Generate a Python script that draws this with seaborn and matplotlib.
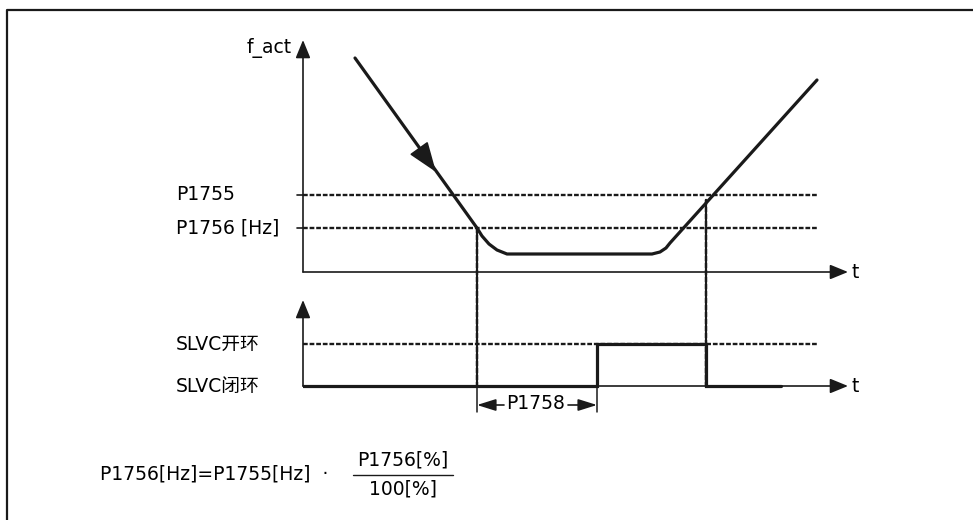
import numpy as np
import pandas as pd
import seaborn as sns
import matplotlib.pyplot as plt
from matplotlib.patches import ConnectionPatch
from matplotlib.lines import Line2D

# f_act curve (t, f)
t_curve = [5.2, 17.4, 17.9, 18.6, 19.4, 20.4, 34.9, 35.7, 36.3, 36.7, 51.4]
f_curve = [21.4, 4.4, 3.6, 2.8, 2.2, 1.8, 1.8, 2.0, 2.4, 2.9, 19.2]

# thresholds
p1755 = 7.7
p1756 = 4.4
level_labels = ["P1755", "P1756 [Hz]"]

# SLVC state signal (0 = closed loop, 4.2 = open loop)
t_slvc = [0, 29.4, 40.3, 47.8]
s_slvc = [0, 4.2, 0, 0]
slvc_open = 4.2
slvc_labels = ["SLVC开环", "SLVC闭环"]

t_down = 17.4      # f_act falls below P1756
t_up = 40.3        # f_act rises above P1755
p1758 = 12.0       # delay
t_end_dash = 51.5

sns.set_theme(style="white")
plt.rcParams['font.family'] = ['DejaVu Sans', 'Noto Sans CJK SC']
plt.rcParams['text.color'] = 'black'

W, H = 973, 520
fig = plt.figure(figsize=(W / 100, H / 100), dpi=100)
fig.patch.set_facecolor("white")

def rect(x0, y0, x1, y1):
    return [x0 / W, 1 - y1 / H, (x1 - x0) / W, (y1 - y0) / H]

ax1 = fig.add_axes(rect(303, 40, 848, 272))
ax2 = fig.add_axes(rect(303, 300, 848, 420))
ax1.set_xlim(0, 54.5)
ax1.set_ylim(0, 23.2)
ax2.set_xlim(0, 54.5)
ax2.set_ylim(-3.4, 8.6)
for ax in (ax1, ax2):
    ax.axis("off")

axis_arrow = dict(arrowstyle="-|>,head_length=1.1,head_width=0.45", mutation_scale=10,
                  lw=1.2, color="k", shrinkA=0, shrinkB=0)
dash = (0, (2.0, 0.8))
fs = 13.5

# ---- upper panel ----
ax1.annotate("", xy=(54.5, 0), xytext=(0, 0), arrowprops=axis_arrow, annotation_clip=False)
ax1.annotate("", xy=(0, 23.2), xytext=(0, 0), arrowprops=axis_arrow, annotation_clip=False)

for lev, lab in zip([p1755, p1756], level_labels):
    ax1.plot([0, t_end_dash], [lev, lev], color="k", lw=1.7, ls=dash)
    ax1.plot([-0.65, 0], [lev, lev], color="k", lw=1.2, clip_on=False)
    ax1.text(-12.7, lev, lab, ha="left", va="center", fontsize=fs, clip_on=False)

sns.lineplot(x=t_curve, y=f_curve, sort=False, estimator=None, color="k", lw=2.3, ax=ax1,
             solid_joinstyle="round", solid_capstyle="round")
ax1.annotate("", xy=(13.3, 10.0), xytext=(11.6, 12.37),
             arrowprops=dict(arrowstyle="-|>,head_length=1.9,head_width=0.7", mutation_scale=10,
                             lw=1.2, color="k", shrinkA=0, shrinkB=0))

ax1.text(-1.1, 22.4, "f_act", ha="right", va="center", fontsize=fs, clip_on=False)
ax1.text(54.9, 0, "t", ha="left", va="center", fontsize=fs, clip_on=False)

# ---- lower panel ----
ax2.annotate("", xy=(54.5, 0), xytext=(0, 0), arrowprops=axis_arrow, annotation_clip=False)
ax2.annotate("", xy=(0, 8.6), xytext=(0, 0), arrowprops=axis_arrow, annotation_clip=False)
ax2.plot([0, t_end_dash], [slvc_open, slvc_open], color="k", lw=1.7, ls=dash)
sns.lineplot(x=t_slvc, y=s_slvc, drawstyle="steps-post", estimator=None, color="k", lw=2.3,
             ax=ax2, solid_joinstyle="miter")
ax2.text(-12.7, slvc_open, slvc_labels[0], ha="left", va="center", fontsize=fs, clip_on=False)
ax2.text(-12.7, 0, slvc_labels[1], ha="left", va="center", fontsize=fs, clip_on=False)
ax2.text(54.9, 0, "t", ha="left", va="center", fontsize=fs, clip_on=False)

# P1758 delay marker
for tt in (t_down, t_down + p1758):
    ax2.plot([tt, tt], [0, -2.6], color="k", lw=1.1, clip_on=False)
mid = t_down + p1758 / 2
small_arrow = dict(arrowstyle="-|>,head_length=1.15,head_width=0.36", mutation_scale=10,
                   lw=1.2, color="k", shrinkA=0, shrinkB=0)
ax2.annotate("", xy=(t_down, -1.9), xytext=(mid - 3.3, -1.9), arrowprops=small_arrow,
             annotation_clip=False)
ax2.annotate("", xy=(t_down + p1758, -1.9), xytext=(mid + 3.1, -1.9), arrowprops=small_arrow,
             annotation_clip=False)
ax2.text(mid - 0.1, -1.75, "P1758", ha="center", va="center", fontsize=fs, clip_on=False)

# vertical dotted connectors between panels
for (ta, fa) in [(t_down, p1756), (t_up, 7.2)]:
    cp = ConnectionPatch(xyA=(ta, fa), coordsA=ax1.transData, xyB=(ta, 0), coordsB=ax2.transData,
                         color="k", lw=1.8, linestyle=dash)
    fig.add_artist(cp)

# formula
ffs = 13.5
fig.text(100 / W, 1 - 474 / H, "P1756[Hz]=P1755[Hz]  ·", ha="left", va="center", fontsize=ffs)
fig.text(403 / W, 1 - 460 / H, "P1756[%]", ha="center", va="center", fontsize=ffs)
fig.text(403 / W, 1 - 489 / H, "100[%]", ha="center", va="center", fontsize=ffs)
fig.add_artist(Line2D([353 / W, 453 / W], [1 - 475 / H, 1 - 475 / H], color="k", lw=1.0,
                      transform=fig.transFigure))

# frame (left and top edges)
fig.add_artist(Line2D([7 / W, 7 / W, 1], [0, 1 - 10 / H, 1 - 10 / H], color="k", lw=1.6,
                      transform=fig.transFigure))

fig.savefig("out.png", dpi=100)
